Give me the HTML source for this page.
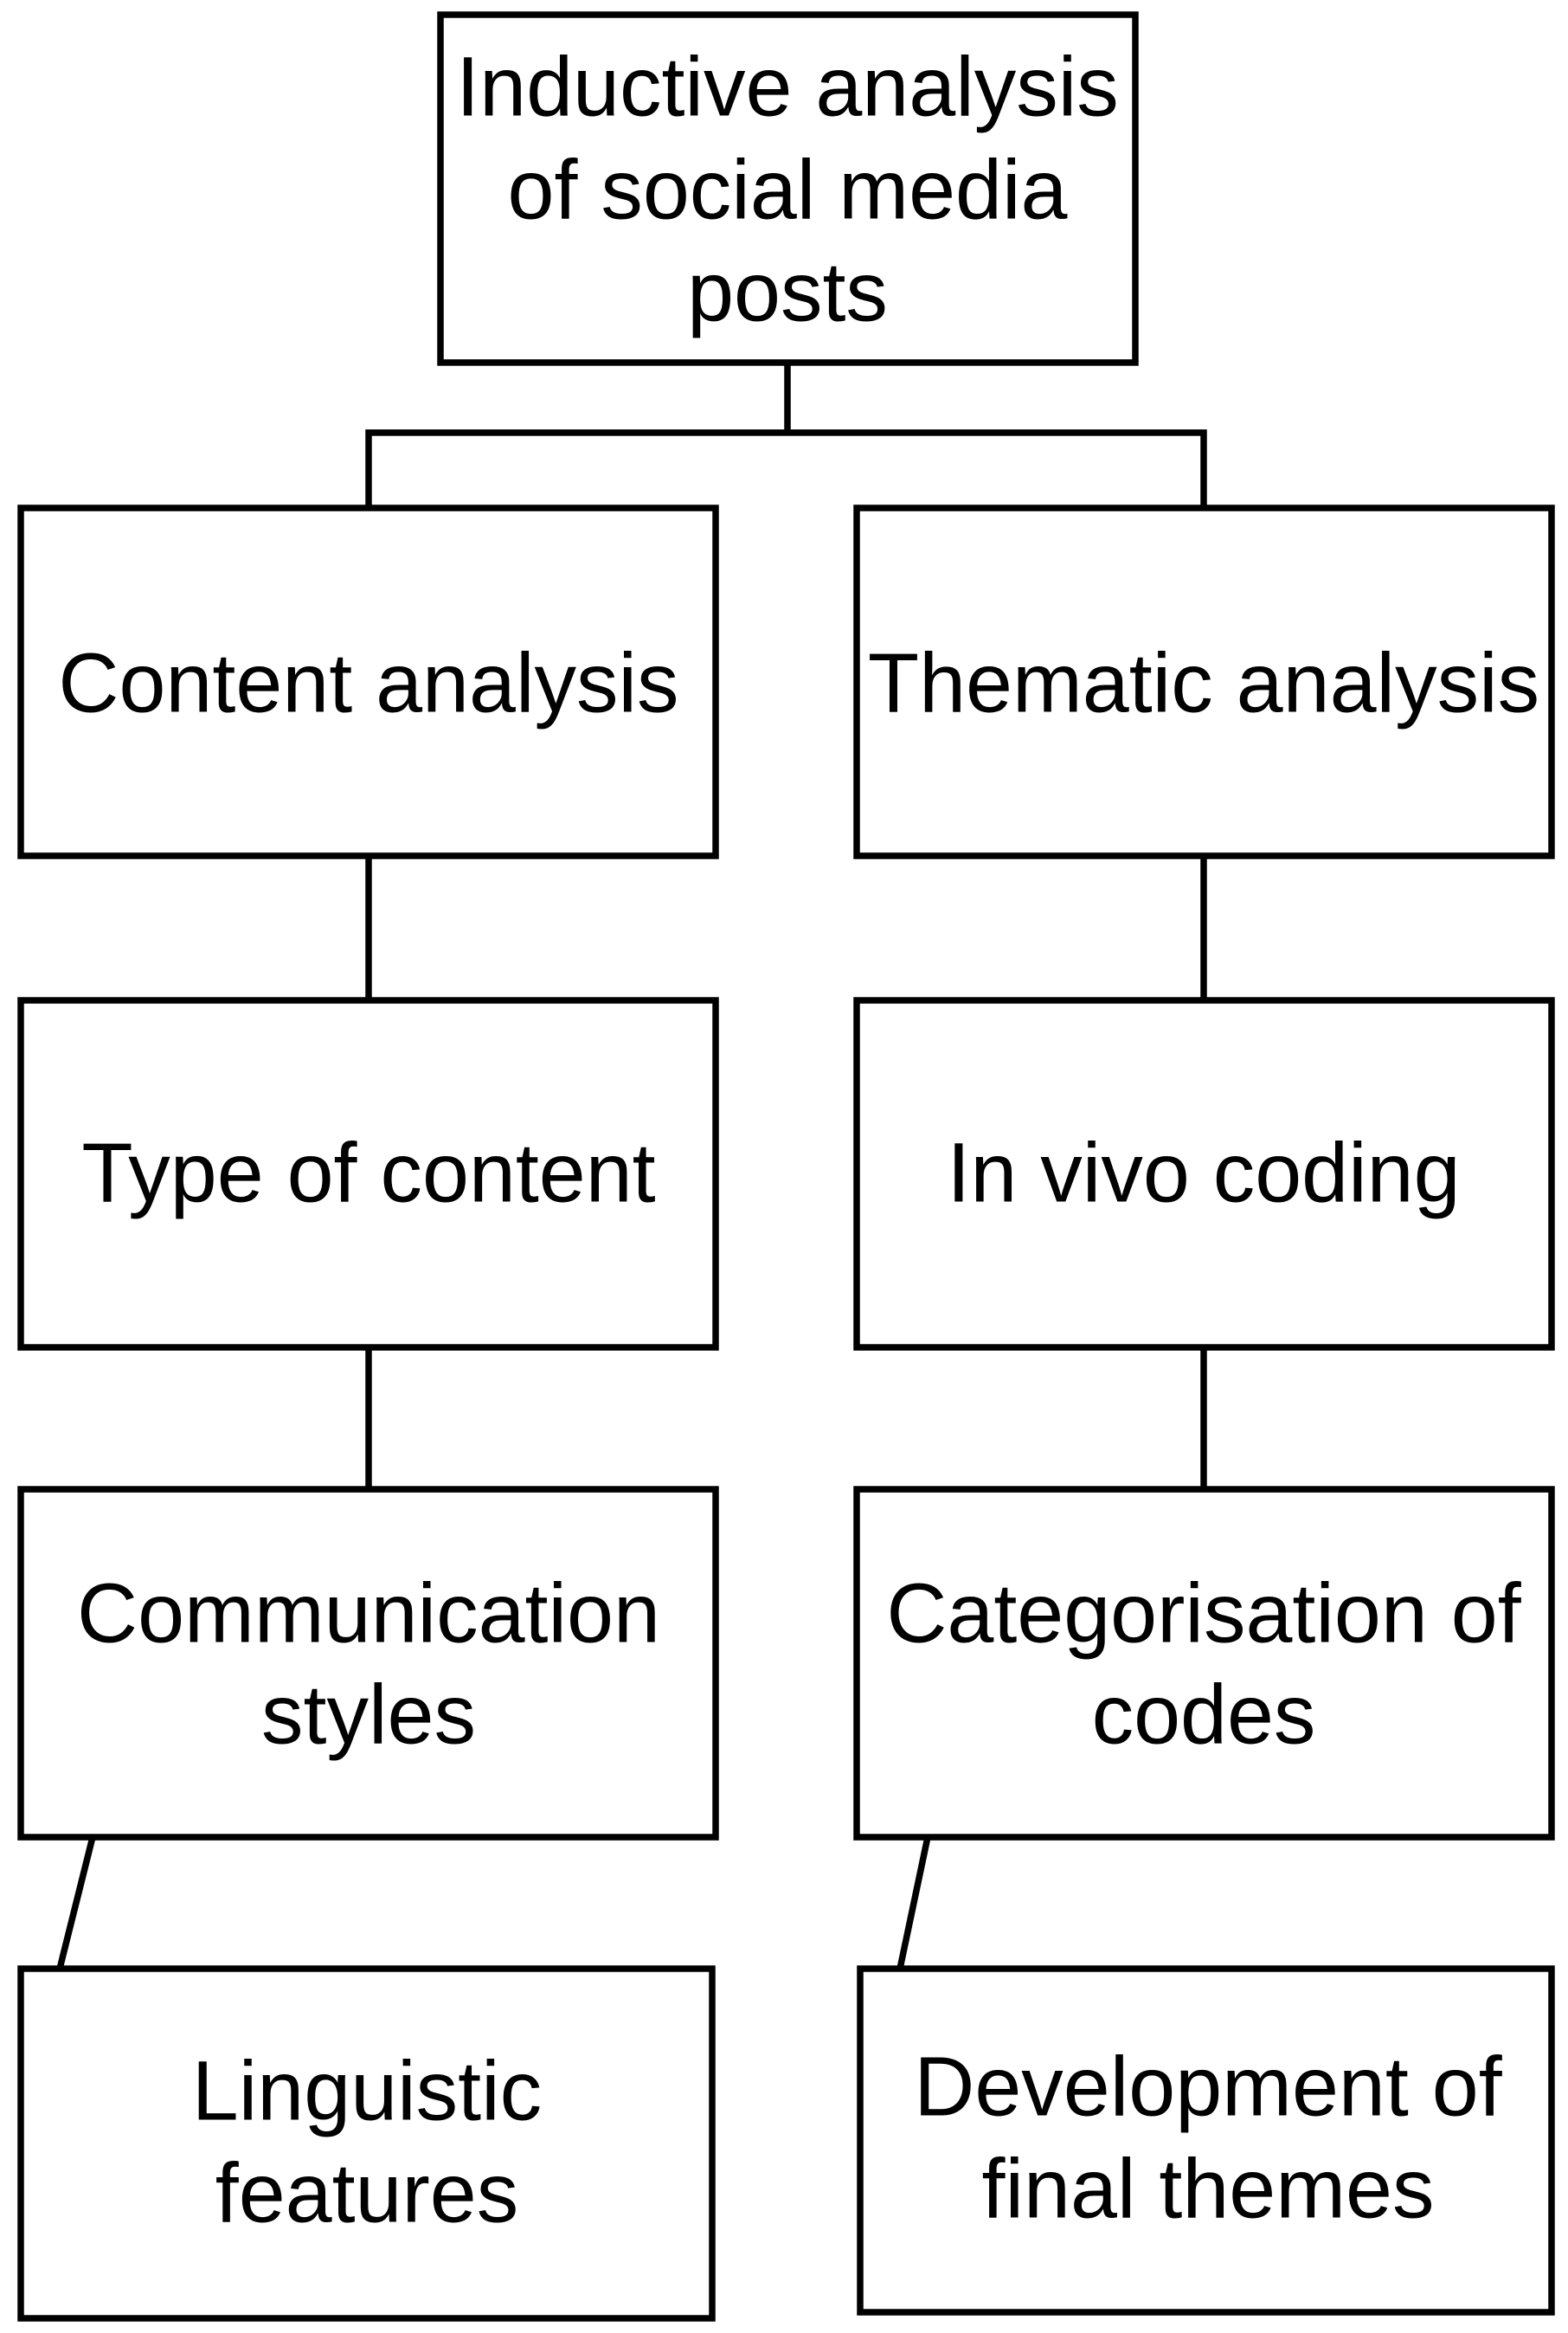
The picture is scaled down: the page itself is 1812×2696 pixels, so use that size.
<!DOCTYPE html>
<html><head><meta charset="utf-8"><style>
html,body{margin:0;padding:0;background:#fff;}
svg{display:block;}
text{font-family:"Liberation Sans",sans-serif;font-size:97px;fill:#000;text-anchor:middle;dominant-baseline:central;}
</style></head><body>
<svg width="1812" height="2696" viewBox="0 0 1812 2696" xmlns="http://www.w3.org/2000/svg">
<g fill="none" stroke="#000" stroke-width="7.5">
<rect x="509" y="17" width="803" height="402"/>
<rect x="24" y="587" width="803" height="402"/>
<rect x="990" y="587" width="803" height="402"/>
<rect x="24" y="1156" width="803" height="401"/>
<rect x="990" y="1156" width="803" height="401"/>
<rect x="24" y="1721" width="803" height="402"/>
<rect x="990" y="1721" width="803" height="402"/>
<rect x="24" y="2275" width="799" height="404"/>
<rect x="994" y="2275" width="799" height="397"/>
<polyline points="910,419 910,500"/>
<polyline points="426,587 426,500 1391,500 1391,587"/>
<line x1="426" y1="989" x2="426" y2="1156"/>
<line x1="1391" y1="989" x2="1391" y2="1156"/>
<line x1="426" y1="1557" x2="426" y2="1721"/>
<line x1="1391" y1="1557" x2="1391" y2="1721"/>
<line x1="107" y1="2123" x2="69" y2="2275"/>
<line x1="1072" y1="2123" x2="1040" y2="2275"/>
</g>
<text x="910" y="100">Inductive analysis</text>
<text x="910" y="219">of social media</text>
<text x="910" y="337">posts</text>
<text x="426" y="789">Content analysis</text>
<text x="1391" y="789">Thematic analysis</text>
<text x="426" y="1355">Type of content</text>
<text x="1391" y="1355">In vivo coding</text>
<text x="426" y="1864">Communication</text>
<text x="426" y="1981">styles</text>
<text x="1391" y="1864">Categorisation of</text>
<text x="1391" y="1981">codes</text>
<text x="424" y="2416">Linguistic</text>
<text x="424" y="2534">features</text>
<text x="1396" y="2411">Development of</text>
<text x="1396" y="2529">final themes</text>
</svg>
</body></html>
